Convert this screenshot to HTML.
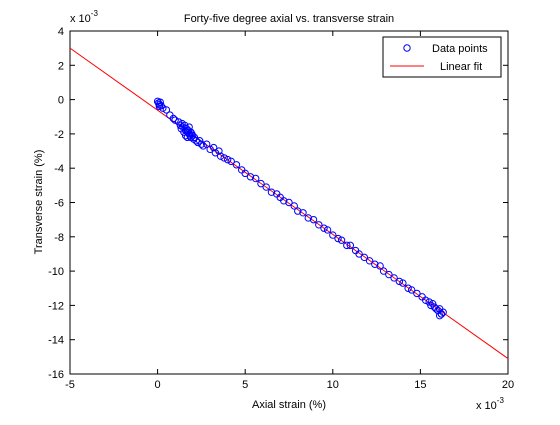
<!DOCTYPE html>
<html><head><meta charset="utf-8"><style>
body{margin:0;background:#fff;}
svg{font-family:"Liberation Sans",sans-serif;}
</style></head><body>
<svg width="560" height="420" xmlns="http://www.w3.org/2000/svg">
<rect width="560" height="420" fill="#fff"/>
<g id="plot"></g>
</svg>
<script>
const xTicks=[-5,0,5,10,15,20];
const yTicks=[4,2,0,-2,-4,-6,-8,-10,-12,-14,-16];
const fitX=[-5,20];
const fitY=[3,-15.1];
const ptsX=[0,0.05,0.1,0.15,0.2,0.1,0.3,0.5,0.7,0.9,1.0,1.2,1.3,1.35,1.4,1.45,1.5,1.55,1.6,1.6,1.65,1.7,1.7,1.75,1.8,1.8,1.85,1.9,1.9,1.95,2.0,2.05,2.1,2.2,2.3,2.4,2.5,2.6,2.8,3.0,3.2,3.3,3.5,3.6,3.8,4.0,4.2,4.5,4.8,5.0,5.3,5.6,5.9,6.2,6.5,6.8,7.0,7.2,7.5,7.8,8.0,8.3,8.6,8.9,9.2,9.5,9.7,10.0,10.3,10.5,10.8,11.0,11.3,11.5,11.8,12.1,12.4,12.7,12.9,13.2,13.5,13.8,14.0,14.3,14.5,14.8,15.1,15.3,15.5,15.6,15.7,15.8,15.9,16.0,16.1,16.2,16.3,16.1,16.2];
const ptsY=[-0.1,-0.2,-0.3,-0.15,-0.35,-0.4,-0.5,-0.6,-0.9,-1.1,-1.2,-1.3,-1.5,-1.7,-1.4,-1.6,-1.9,-1.5,-1.8,-2.1,-1.7,-1.9,-2.2,-1.8,-2.0,-1.6,-2.1,-1.9,-2.2,-2.0,-2.1,-2.3,-2.2,-2.4,-2.5,-2.4,-2.6,-2.7,-2.6,-2.9,-2.8,-3.1,-3.0,-3.3,-3.4,-3.5,-3.6,-3.8,-4.1,-4.3,-4.5,-4.6,-4.9,-5.1,-5.4,-5.5,-5.7,-5.9,-6.0,-6.2,-6.5,-6.6,-6.9,-7.0,-7.3,-7.5,-7.6,-7.9,-8.1,-8.2,-8.5,-8.5,-8.8,-9.0,-9.2,-9.4,-9.6,-9.7,-10.0,-10.2,-10.4,-10.6,-10.7,-11.0,-11.1,-11.3,-11.5,-11.7,-11.8,-12.0,-11.9,-12.1,-12.2,-12.3,-12.2,-12.5,-12.4,-12.6,-12.5];
const L=70,R=508,T=31,B=374;
const xs=v=>L+(v+5)/25*(R-L);
const ys=v=>T+(4-v)/20*(B-T);
const NS="http://www.w3.org/2000/svg";
const g=document.getElementById('plot');
function mk(tag,attrs,parent){const e=document.createElementNS(NS,tag);for(const k in attrs)e.setAttribute(k,attrs[k]);(parent||g).appendChild(e);return e;}
const ax=mk('rect',{x:L,y:T,width:R-L,height:B-T,fill:'#fff',stroke:'#000','stroke-width':1});


xTicks.forEach(t=>{const x=xs(t);
 mk('line',{x1:x,x2:x,y1:B,y2:B-5,stroke:'#000'});mk('line',{x1:x,x2:x,y1:T,y2:T+5,stroke:'#000'});
 const tx=mk('text',{x:x,y:B+14,'font-size':11,'text-anchor':'middle'});tx.textContent=t;
 
 });
yTicks.forEach(t=>{const y=ys(t);
 mk('line',{x1:L,x2:L+5,y1:y,y2:y,stroke:'#000'});mk('line',{x1:R,x2:R-5,y1:y,y2:y,stroke:'#000'});
 const tx=mk('text',{x:L-6,y:y+4,'font-size':11,'text-anchor':'end'});tx.textContent=t;
 
 });
const fl=mk('line',{x1:xs(fitX[0]),y1:ys(fitY[0]),x2:xs(fitX[1]),y2:ys(fitY[1]),stroke:'#f00','stroke-width':1});


ptsX.forEach((v,i)=>{const c=mk('circle',{cx:xs(v),cy:ys(ptsY[i]),r:3.2,fill:'none',stroke:'#00f','stroke-width':1});
 
 });
function txt(s,a,name){const t=mk('text',a);t.textContent=s;return t;}
txt('Forty-five degree axial vs. transverse strain',{x:289,y:22,'font-size':11,'text-anchor':'middle'},'chart-title');
txt('Axial strain (%)',{x:289,y:408,'font-size':11,'text-anchor':'middle'},'x-axis-title');
txt('Transverse strain (%)',{x:42,y:202,'font-size':11,'text-anchor':'middle',transform:'rotate(-90 42 202)'},'y-axis-title');
const e1=txt('x 10',{x:70,y:22,'font-size':11},'y-exponent');
const s1=mk('tspan',{dy:-6,'font-size':8});s1.textContent='-3';e1.appendChild(s1);
const e2=txt('x 10',{x:476,y:409,'font-size':11},'x-exponent');
const s2=mk('tspan',{dy:-6,'font-size':8});s2.textContent='-3';e2.appendChild(s2);
const lg=mk('rect',{x:383,y:37,width:118,height:40,fill:'#fff',stroke:'#000'});


const lc=mk('circle',{cx:407,cy:48,r:3.2,fill:'none',stroke:'#00f'});


txt('Data points',{x:432,y:52,'font-size':11},'legend-entry-data');
const ll=mk('line',{x1:390,x2:424,y1:66,y2:66,stroke:'#f00'});


txt('Linear fit',{x:440,y:70,'font-size':11},'legend-entry-fit');
</script>
</body></html>
